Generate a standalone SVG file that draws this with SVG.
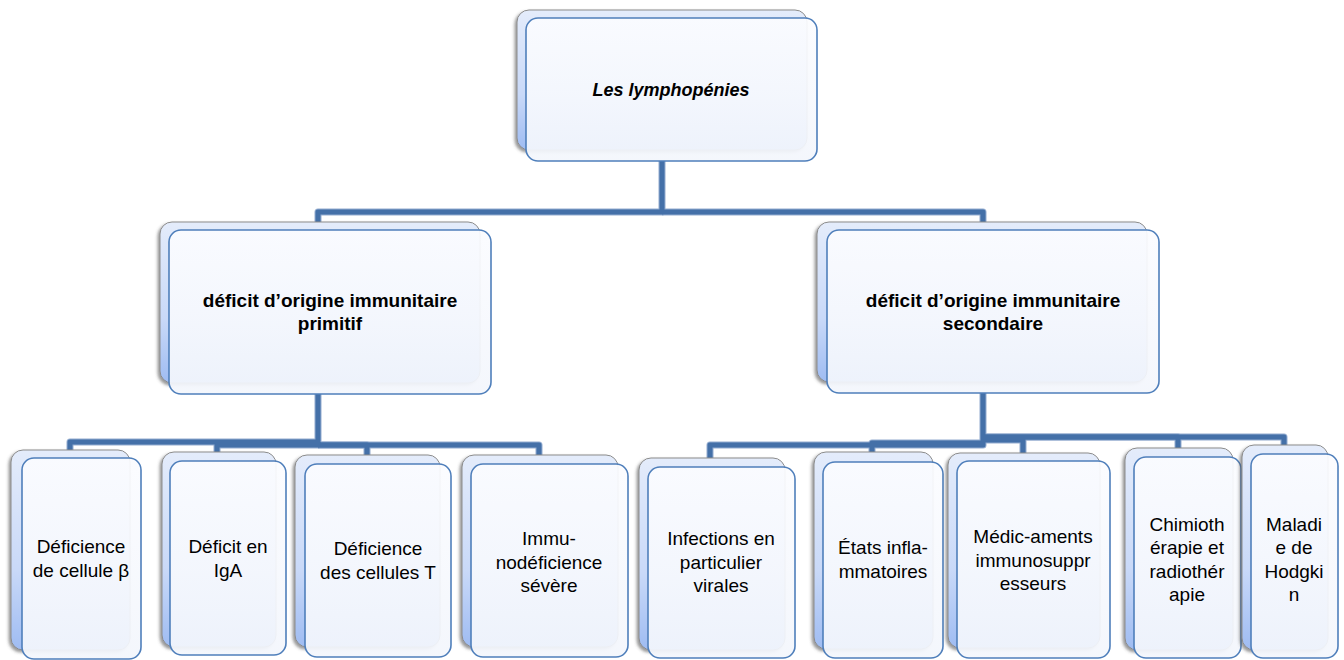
<svg xmlns="http://www.w3.org/2000/svg" width="1344" height="660" viewBox="0 0 1344 660">
  <defs>
    <linearGradient id="backFill" x1="0" y1="0" x2="0" y2="1">
      <stop offset="0" stop-color="#e4ecfb"/>
      <stop offset="0.6" stop-color="#c9d9f8"/>
      <stop offset="1" stop-color="#9fbcf2"/>
    </linearGradient>
    <linearGradient id="frontFill" x1="0" y1="0" x2="0" y2="1">
      <stop offset="0" stop-color="#fbfcff"/>
      <stop offset="1" stop-color="#f3f6fc"/>
    </linearGradient>
    <filter id="shade" x="-10%" y="-10%" width="120%" height="120%">
      <feDropShadow dx="-2" dy="2" stdDeviation="1.6" flood-color="#555" flood-opacity="0.6"/>
    </filter>
  </defs>
  <style>
    .back { fill: url(#backFill); stroke: #8c8c8c; stroke-width: 1; filter: url(#shade); }
    .front { fill: url(#frontFill); fill-opacity: 0.93; stroke: #4f7fbb; stroke-width: 1.6; }
    .wire { fill: none; stroke-linejoin: round; }
    .wire-edge { stroke: #93acd0; stroke-width: 7; }
    .wire-core { stroke: #4470a8; stroke-width: 5; }
    .title { font-family: "Liberation Sans", Arial, sans-serif; font-size: 19px; font-weight: bold; fill: #000; text-anchor: middle; }
    .root { font-style: italic; font-size: 18px; }
    .leaf { font-family: "Liberation Sans", Arial, sans-serif; font-size: 19px; fill: #000; text-anchor: middle; }
  </style>
  <rect width="1344" height="660" fill="#ffffff"/>

  <!-- elbow connectors, drawn beneath the cards -->
  <g id="connectors">
    <g class="wire wire-edge">
      <path d="M662,161 V212 H318 V230"/>
      <path d="M662,212 H983 V230"/>
      <path d="M318,394 V442 H70 V458"/>
      <path d="M318,442 V445 H217 V461"/>
      <path d="M318,445 H367 V464"/>
      <path d="M318,445 H539 V464"/>
      <path d="M983,393 V445 H710 V467"/>
      <path d="M983,443 H872 V462"/>
      <path d="M983,440 H1023 V461"/>
      <path d="M983,437 H1178 V457"/>
      <path d="M983,437 H1284 V454"/>
    </g>
    <g class="wire wire-core">
      <path d="M662,161 V212 H318 V230"/>
      <path d="M662,212 H983 V230"/>
      <path d="M318,394 V442 H70 V458"/>
      <path d="M318,442 V445 H217 V461"/>
      <path d="M318,445 H367 V464"/>
      <path d="M318,445 H539 V464"/>
      <path d="M983,393 V445 H710 V467"/>
      <path d="M983,443 H872 V462"/>
      <path d="M983,440 H1023 V461"/>
      <path d="M983,437 H1178 V457"/>
      <path d="M983,437 H1284 V454"/>
    </g>
  </g>

  <!-- top level -->
  <g id="node-root">
    <rect class="back" x="517" y="10" width="290" height="140" rx="12"/>
    <rect class="front" x="526" y="18" width="291" height="143" rx="12"/>
    <text class="title root" x="671" y="96">Les lymphopénies</text>
  </g>

  <!-- second level -->
  <g id="node-primitif">
    <rect class="back" x="160" y="222" width="320" height="161" rx="12"/>
    <rect class="front" x="169" y="230" width="322" height="164" rx="12"/>
    <text class="title" x="330" y="307">déficit d’origine immunitaire</text>
    <text class="title" x="330" y="330">primitif</text>
  </g>
  <g id="node-secondaire">
    <rect class="back" x="817" y="222" width="330" height="160" rx="12"/>
    <rect class="front" x="827" y="230" width="332" height="163" rx="12"/>
    <text class="title" x="993" y="307">déficit d’origine immunitaire</text>
    <text class="title" x="993" y="330">secondaire</text>
  </g>

  <!-- third level, primary deficits -->
  <g id="node-cellule-b">
    <rect class="back" x="11" y="450" width="119" height="200" rx="12"/>
    <rect class="front" x="22" y="458" width="119" height="201" rx="12"/>
    <text class="leaf" x="81" y="553">Déficience</text>
    <text class="leaf" x="81" y="577">de cellule β</text>
  </g>
  <g id="node-iga">
    <rect class="back" x="162" y="452" width="114" height="195" rx="12"/>
    <rect class="front" x="170" y="461" width="116" height="194" rx="12"/>
    <text class="leaf" x="228" y="553">Déficit en</text>
    <text class="leaf" x="228" y="577">IgA</text>
  </g>
  <g id="node-cellules-t">
    <rect class="back" x="295" y="455" width="145" height="192" rx="12"/>
    <rect class="front" x="305" y="464" width="146" height="193" rx="12"/>
    <text class="leaf" x="378" y="555">Déficience</text>
    <text class="leaf" x="378" y="579">des cellules T</text>
  </g>
  <g id="node-immuno-severe">
    <rect class="back" x="462" y="455" width="156" height="192" rx="12"/>
    <rect class="front" x="471" y="464" width="157" height="193" rx="12"/>
    <text class="leaf" x="549" y="545">Immu-</text>
    <text class="leaf" x="549" y="569">nodéficience</text>
    <text class="leaf" x="549" y="592">sévère</text>
  </g>

  <!-- third level, secondary deficits -->
  <g id="node-infections">
    <rect class="back" x="639" y="458" width="146" height="192" rx="12"/>
    <rect class="front" x="648" y="467" width="147" height="191" rx="12"/>
    <text class="leaf" x="721" y="545">Infections en</text>
    <text class="leaf" x="721" y="569">particulier</text>
    <text class="leaf" x="721" y="592">virales</text>
  </g>
  <g id="node-inflammatoires">
    <rect class="back" x="814" y="452" width="119" height="197" rx="12"/>
    <rect class="front" x="823" y="462" width="120" height="196" rx="12"/>
    <text class="leaf" x="883" y="554">États infla-</text>
    <text class="leaf" x="883" y="578">mmatoires</text>
  </g>
  <g id="node-medicaments">
    <rect class="back" x="948" y="453" width="152" height="195" rx="12"/>
    <rect class="front" x="957" y="461" width="153" height="197" rx="12"/>
    <text class="leaf" x="1033" y="543">Médic-aments</text>
    <text class="leaf" x="1033" y="567">immunosuppr</text>
    <text class="leaf" x="1033" y="590">esseurs</text>
  </g>
  <g id="node-chimio">
    <rect class="back" x="1125" y="448" width="108" height="202" rx="12"/>
    <rect class="front" x="1134" y="457" width="107" height="201" rx="12"/>
    <text class="leaf" x="1187" y="531">Chimioth</text>
    <text class="leaf" x="1187" y="554">érapie et</text>
    <text class="leaf" x="1187" y="578">radiothér</text>
    <text class="leaf" x="1187" y="601">apie</text>
  </g>
  <g id="node-hodgkin">
    <rect class="back" x="1242" y="445" width="86" height="205" rx="12"/>
    <rect class="front" x="1251" y="454" width="87" height="204" rx="12"/>
    <text class="leaf" x="1294" y="531">Maladi</text>
    <text class="leaf" x="1294" y="554">e de</text>
    <text class="leaf" x="1294" y="578">Hodgki</text>
    <text class="leaf" x="1294" y="601">n</text>
  </g>
</svg>
